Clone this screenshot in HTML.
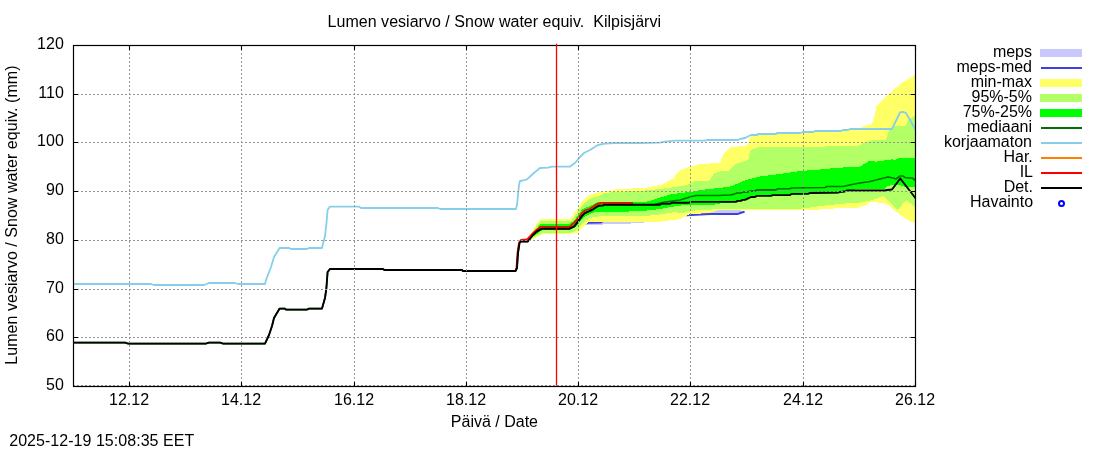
<!DOCTYPE html>
<html lang="fi">
<head>
<meta charset="utf-8">
<title>Lumen vesiarvo / Snow water equiv. Kilpisjärvi</title>
<style>
html,body{margin:0;padding:0;background:#fff;}
body{width:1100px;height:450px;overflow:hidden;}
svg{display:block;}
text{font-family:"Liberation Sans",sans-serif;font-size:16px;fill:#000;}
</style>
</head>
<body>
<svg width="1100" height="450" viewBox="0 0 1100 450">
<rect x="0" y="0" width="1100" height="450" fill="#ffffff"/>
<defs><clipPath id="plot"><rect x="73.5" y="45.5" width="842.0" height="341.0"/></clipPath></defs>

<g clip-path="url(#plot)">
<polygon points="585,222.5 601,222 640,220 687,212 710,210.2 738,210.2 744.5,211 744.5,212 738,214.3 700,215 687,215.5 660,220 640,223.2 600,224.6 585,225.5" fill="#c8c8fa" shape-rendering="crispEdges"/>
<polyline points="585,223.6 588,222.8 601,222.5 604,220.5 640,218 680,214 686.7,215.3 696,214.8 710,213.9 738,213.9 741,212.8 744.5,211.8" fill="none" stroke="#4040e0" stroke-width="2" stroke-linejoin="round" stroke-linecap="butt" />
<polygon points="527.5,240 530,235 535,226.4 540,219.6 541,219.2 570,219.2 574.3,213.1 578.1,207.8 581.9,201.8 585.7,198 589.4,195 595,193 604,191.5 618,189 645,188 658,185.3 661,185 673,178.5 680,170 688,167.5 700,164 720,163 723,155 728,149 730,147 745,146 748,144 750,138 751,135.5 757,135 758,134 776,134 777,133 800,133 803,132 813,132 815,131 841,131 843,130 848,130 850,129 860,128.5 861,127 872,124 874,118 876.5,106 879,103 882,100 890,93 903,82 916,74.5 916,223.4 910,221 906,219 902,216 897,212 893,209 888,205 882,203 873,202 870,202.5 864,206 860,207 858,208 835,208 833,209 810,209.9 722,210 718,210.2 710,213 696,213.8 690,214.2 687,215.5 680,219 673,220 659,221.8 589.4,221.8 588,222.6 585.7,225.2 581.9,229 578.5,232.5 571.5,233.9 543,233.9 531,240 528,240.5" fill="#ffff66" shape-rendering="crispEdges"/>
<polygon points="528,240 535,228.3 540.5,221.4 570,221.4 574.3,216.9 578.1,211.2 581.9,205.6 585.7,202.2 589.4,199.5 593.2,197.6 600.8,195.4 604,193 618,191.8 640,191 660,189 675,187 687,185 695,181 709,181 714,173.5 720,171.5 728,171 735,164 748,160 749,158 750,150 757,148 758,147 824,147 825,146 858,146 860,145 862,143.5 870,141 872,140 886,140 889,130 893,126 906,126 908,120 916,114.5 916,207.5 910,203 906,200 902,205 898,210 893,206 888,201 883,196 878,198 872,200 860,202.5 850,203 840,204 830,205 820,206 810,207.5 800,208.8 750,209.2 712,209.5 698,209.9 690,211.5 680,213.5 675,212 660,214.5 645,216 615,216.3 598.5,216.5 593.2,217.3 589.4,218.4 585.7,220.7 581.9,224.8 578.1,229 575,231.5 570,232.8 543,232.8 528,240.5" fill="#b2ff66" shape-rendering="crispEdges"/>
<polygon points="528.5,240 535,230.4 541,223.7 570,223.7 574.3,220.3 578.1,215.4 581.9,209.7 585.7,207.5 589.4,206.3 593.2,204.4 597,202.5 602.3,201.5 647,201.5 654,199.5 670,194.5 680,193 690,192 700,190 710,189 730,186.7 735,184.5 740,182.5 746,180 750,179 760,176.5 780,174 800,171 820,169.5 830,168.5 850,167 860,166.5 866,163 868,161 874,161 876,162.5 878,161 890,160 892,159 894,160.5 899,158 916,158 916,187 905,187 898,184.5 890,185.5 886,187 885,188.5 870,188.5 847,190 838,193.5 808,194.2 790,195.2 771,196 756,196 750,197.5 741,201 736,202 722,203 715,204.6 687,204.8 675,206.3 660,209 642,211 615,212 597.7,212 593.2,212.7 589.4,214.3 585.7,216.1 581.9,219.9 578.1,224 575,227 570,229.5 543,229.5 528,240.5" fill="#00ff00" shape-rendering="crispEdges"/>
<polyline points="73.5,342.6 125,342.6 128,343.6 206,343.6 209,342.6 220,342.6 223,343.6 265,343.6 269,335 272,326 274,318 279.6,308.6 285,308.6 286,309.6 307,309.6 309,308.6 322,308.6 325,298 326.4,288 327.6,272 330,269 383,269 384.4,270 462,270 463,271 515.5,271 517,268 518,253 519.5,243 520.5,241.5 527.8,241.5 533,235 537,231.3 541,229.1 542,228.8 569.5,228.8 570.6,228.2 574.3,226.3 578.1,221.4 581.9,216.1 584.9,213.1 589.4,211.2 593.2,209.3 597,206.7 599.5,205.6 603,205.5 604,204.8 655,204.6 660,203 665,202 680,200 690,197 696,195.5 718,195.5 730,195 733,194.4 737,193 741,193 742.5,192.1 748,192.1 749.5,191.1 755,191.1 756.5,189.9 776,189.9 777.5,188.8 790,188.8 791.5,188 825,187.5 827,186.5 843,186.5 845,186 852,184.5 860,183 870,181.5 880,179 888,177 893,178 896,179 900,176 903,176 905,177.5 910,178 912,178 915,180 916,180.3" fill="none" stroke="#007000" stroke-width="1.6" stroke-linejoin="round" stroke-linecap="butt" />
<polyline points="73.5,284 151,284 154,285 204,285 209,283 235,283 238,284 265,284 266,280 271,267 274,257 279.6,248 289,248 291,249 307,249 309,248 322,248 325,236 326.4,224 327.6,210 330,206.6 359,206.6 361,208 438,208 440,209 516,209 517,205 519,185 520,181 523,180.5 527,179.4 535,172 540,168 548,167.6 552,166.6 570,166.6 575,163 580,157 584,153 590,150 598,145 605,143.6 615,143 640,143 660,142.6 665,141.6 675,140.6 705,140.6 707,140 738,140 740,139 745,138 750,135.5 751,135 757,135 758,134 776,134 777,133 800,133 803,132 813,132 815,131 841,131 843,130 848,130 850,129 892,129 900,112.5 903,111.8 906,113 914.5,128 916,130.5" fill="none" stroke="#87ceeb" stroke-width="1.8" stroke-linejoin="round" stroke-linecap="butt" />
<polyline points="462.3,270.4 463,271 515.3,271 516.5,268 517.5,253 519,243 521,240 526.5,239.5 528,238.4 533,233.1 537,229.4 540.7,226.9 569.5,226.9 570.6,225.8 574.3,222.6 578.1,218.4 581.9,213.1 584.9,210.5 589.4,209 593.2,206.7 597,204.1 600.8,202.9 633,202.9" fill="none" stroke="#ff0000" stroke-width="1.8" stroke-linejoin="round" stroke-linecap="butt" />
<polyline points="73.5,342.6 125,342.6 128,343.6 206,343.6 209,342.6 220,342.6 223,343.6 265,343.6 269,335 272,326 274,318 279.6,308.6 285,308.6 286,309.6 307,309.6 309,308.6 322,308.6 325,298 326.4,288 327.6,272 330,269 383,269 384.4,270 462,270 463,271 515.5,271 517,268 518,253 519.5,243 520.5,241.5 527.8,241.5 533,235 537,231.3 541,229.1 542,228.8 569.5,228.8 570.6,228.2 574.3,226.3 578.1,221.4 581.9,216.1 584.9,213.1 589.4,211.2 593.2,209.3 597,206.7 599.5,205.6 603,205.5 604,204.8 660,204.8 661.5,203.7 670,203.7 672,202.8 689,202.8 690,201.9 736,201.9 737.5,200.9 741,200.9 742.5,199.9 745,199.9 747,198.8 749,198 751,197 755,197 756.5,195.9 771,195.9 772.5,195.1 790,195.1 791.5,193.9 808,193.9 810,193 838,192.5 840,192 845,191.5 847,190.5 885,190.5 887,190 892,189.5 900.3,178.5 915,197.5 916,198.8" fill="none" stroke="#000000" stroke-width="1.9" stroke-linejoin="round" stroke-linecap="butt" />
</g>
<path d="M129.5 45V386.5M241.5 45V386.5M354.5 45V386.5M466.5 45V386.5M578.5 45V386.5M690.5 45V386.5M803.5 45V386.5M73 94.5H915.5M73 142.5H915.5M73 191.5H915.5M73 240.5H915.5M73 289.5H915.5M73 337.5H915.5M73 385.5H915.5" fill="none" stroke="#969696" stroke-width="1" stroke-dasharray="2 2"/>
<path d="M129.5 386.5v-4.5M129.5 45.5v4.5M241.5 386.5v-4.5M241.5 45.5v4.5M354.5 386.5v-4.5M354.5 45.5v4.5M466.5 386.5v-4.5M466.5 45.5v4.5M578.5 386.5v-4.5M578.5 45.5v4.5M690.5 386.5v-4.5M690.5 45.5v4.5M803.5 386.5v-4.5M803.5 45.5v4.5M915.5 386.5v-4.5M915.5 45.5v4.5M73.5 94.5h4.5M915.5 94.5h-4.5M73.5 142.5h4.5M915.5 142.5h-4.5M73.5 191.5h4.5M915.5 191.5h-4.5M73.5 240.5h4.5M915.5 240.5h-4.5M73.5 289.5h4.5M915.5 289.5h-4.5M73.5 337.5h4.5M915.5 337.5h-4.5M73.5 45.5h4.5M915.5 45.5h-4.5M73.5 386.5h4.5M915.5 386.5h-4.5" fill="none" stroke="#000" stroke-width="1.1"/>
<rect x="73.5" y="45.5" width="842.0" height="341.0" fill="none" stroke="#000" stroke-width="1.2"/>
<line x1="556.5" y1="43.8" x2="556.5" y2="385.8" stroke="#ff0000" stroke-width="1.3"/>
<text x="129.1" y="404.8" text-anchor="middle">12.12</text>
<text x="241.1" y="404.8" text-anchor="middle">14.12</text>
<text x="354.1" y="404.8" text-anchor="middle">16.12</text>
<text x="466.1" y="404.8" text-anchor="middle">18.12</text>
<text x="578.1" y="404.8" text-anchor="middle">20.12</text>
<text x="690.1" y="404.8" text-anchor="middle">22.12</text>
<text x="803.1" y="404.8" text-anchor="middle">24.12</text>
<text x="915.1" y="404.8" text-anchor="middle">26.12</text>
<text x="63.8" y="49.3" text-anchor="end">120</text>
<text x="63.8" y="98.3" text-anchor="end">110</text>
<text x="63.8" y="146.3" text-anchor="end">100</text>
<text x="63.8" y="195.3" text-anchor="end">90</text>
<text x="63.8" y="244.3" text-anchor="end">80</text>
<text x="63.8" y="293.3" text-anchor="end">70</text>
<text x="63.8" y="341.3" text-anchor="end">60</text>
<text x="63.8" y="390.3" text-anchor="end">50</text>
<text x="327.6" y="26.8" textLength="333.4" lengthAdjust="spacing" xml:space="preserve" style="white-space:pre">Lumen vesiarvo / Snow water equiv.  Kilpisjärvi</text>
<text x="494.4" y="426.5" text-anchor="middle">Päivä / Date</text>
<text transform="translate(17.0 364.7) rotate(-90)" textLength="299.2" lengthAdjust="spacing">Lumen vesiarvo / Snow water equiv. (mm)</text>
<text x="9.2" y="445.8" textLength="185" lengthAdjust="spacing">2025-12-19 15:08:35 EET</text>
<text x="1032.0" y="56.6" text-anchor="end">meps</text>
<rect x="1040" y="49" width="42" height="8" fill="#c8c8fa"/>
<text x="1032.0" y="71.6" text-anchor="end">meps-med</text>
<line x1="1041" y1="68" x2="1082" y2="68" stroke="#4040e0" stroke-width="2"/>
<text x="1032.0" y="86.6" text-anchor="end">min-max</text>
<rect x="1040" y="79" width="42" height="8" fill="#ffff66"/>
<text x="1032.0" y="101.6" text-anchor="end">95%-5%</text>
<rect x="1040" y="94" width="42" height="8" fill="#b2ff66"/>
<text x="1032.0" y="116.6" text-anchor="end">75%-25%</text>
<rect x="1040" y="109" width="42" height="8" fill="#00ff00"/>
<text x="1032.0" y="131.6" text-anchor="end">mediaani</text>
<line x1="1041" y1="128" x2="1082" y2="128" stroke="#007000" stroke-width="2"/>
<text x="1032.0" y="146.6" text-anchor="end">korjaamaton</text>
<line x1="1041" y1="143" x2="1082" y2="143" stroke="#87ceeb" stroke-width="2"/>
<text x="1032.8" y="161.6" text-anchor="end">Har.</text>
<line x1="1041" y1="158" x2="1082" y2="158" stroke="#ff8000" stroke-width="2"/>
<text x="1033.0" y="176.6" text-anchor="end">IL</text>
<line x1="1041" y1="173" x2="1082" y2="173" stroke="#ff0000" stroke-width="2"/>
<text x="1033.0" y="191.6" text-anchor="end">Det.</text>
<line x1="1041" y1="188" x2="1082" y2="188" stroke="#000000" stroke-width="2"/>
<text x="1033.1" y="206.6" text-anchor="end">Havainto</text>
<circle cx="1061.5" cy="203.4" r="2.5" fill="none" stroke="#0000ff" stroke-width="2"/>
</svg>
</body>
</html>
